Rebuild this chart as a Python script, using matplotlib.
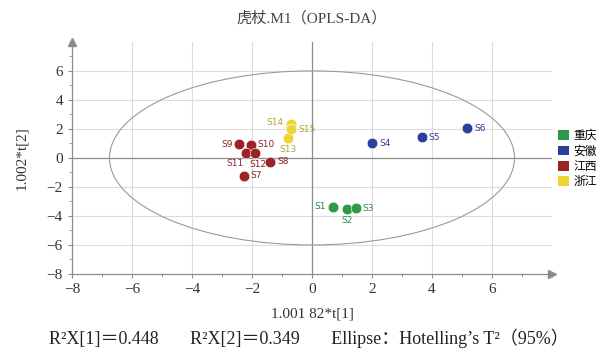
import matplotlib.pyplot as plt
from matplotlib.patches import Ellipse, Patch
from matplotlib.ticker import MultipleLocator

plt.rcParams["font.family"] = ["Liberation Serif", "Noto Sans CJK SC"]

groups = ["重庆", "安徽", "江西", "浙江"]
colors = ["#2e9a48", "#2c3f9c", "#9b2226", "#ecd535"]
text_colors = ["#2e8a48", "#2c3f9c", "#8b2226", "#b8a22a"]

samples = ["S1", "S2", "S3", "S4", "S5", "S6", "S7", "S8", "S9", "S10",
           "S11", "S12", "S13", "S14", "S15"]
t1 = [0.70, 1.18, 1.46, 2.01, 3.66, 5.18, -2.27, -1.40, -2.42, -2.04,
      -2.20, -1.91, -0.80, -0.71, -0.70]
t2 = [-3.38, -3.54, -3.47, 1.01, 1.43, 2.05, -1.24, -0.26, 0.94, 0.90,
      0.37, 0.32, 1.40, 2.34, 1.98]
group_of = [0, 0, 0, 1, 1, 1, 2, 2, 2, 2, 2, 2, 3, 3, 3]

ellipse_a = 6.75
ellipse_b = 6.0

# label offsets (points) and alignment
offsets = {
    "S1": (-5, 0, "right", "center"), "S2": (0, -5, "center", "top"),
    "S3": (5, 0, "left", "center"), "S4": (5, 0, "left", "center"),
    "S5": (5, 0, "left", "center"), "S6": (5, 0, "left", "center"),
    "S7": (5, 0, "left", "center"), "S8": (5, 0, "left", "center"),
    "S9": (-5, 0, "right", "center"), "S10": (5, 0, "left", "center"),
    "S11": (-2, -5, "right", "top"), "S12": (2, -5, "center", "top"),
    "S13": (0, -5, "center", "top"), "S14": (-5, 1, "right", "center"),
    "S15": (5, 0, "left", "center"),
}

fig = plt.figure(figsize=(6, 3.49), dpi=100)
ax = fig.add_axes([0.12, 0.215, 0.80, 0.665])
ax.set_xlim(-8, 8)
ax.set_ylim(-8, 8)

for v in [-6, -4, -2, 2, 4, 6]:
    ax.axvline(v, color="#dcdcdc", lw=0.8, zorder=0)
    ax.axhline(v, color="#dcdcdc", lw=0.8, zorder=0)
ax.axvline(0, color="#8c8c8c", lw=0.9, zorder=1)
ax.axhline(0, color="#8c8c8c", lw=0.9, zorder=1)

ax.add_patch(Ellipse((0, 0), 2 * ellipse_a, 2 * ellipse_b, fill=False,
                     edgecolor="#9a9a9a", lw=0.8, zorder=2))

for i, s in enumerate(samples):
    g = group_of[i]
    ax.scatter(t1[i], t2[i], s=58, color=colors[g], edgecolors="white",
               linewidths=0.4, zorder=4)
    dx, dy, ha, va = offsets[s]
    ax.annotate(s, (t1[i], t2[i]), xytext=(dx, dy), textcoords="offset points",
                ha=ha, va=va, fontsize=6.5, color=text_colors[g],
                family="DejaVu Sans", zorder=5)

for sp in ["top", "right"]:
    ax.spines[sp].set_visible(False)
for sp in ["left", "bottom"]:
    ax.spines[sp].set_color("#8c8c8c")
    ax.spines[sp].set_linewidth(0.9)
ax.plot(1, 0, ">", color="#8c8c8c", ms=6, transform=ax.transAxes, clip_on=False)
ax.plot(0, 1, "^", color="#8c8c8c", ms=6, transform=ax.transAxes, clip_on=False)

ax.xaxis.set_minor_locator(MultipleLocator(1))
ax.yaxis.set_minor_locator(MultipleLocator(1))
ax.set_xticks([-8, -6, -4, -2, 0, 2, 4, 6])
ax.set_yticks([-8, -6, -4, -2, 0, 2, 4, 6])
ax.tick_params(which="both", color="#8c8c8c", labelsize=11, labelcolor="#333333")
ax.tick_params(which="major", length=3)
ax.tick_params(which="minor", length=2)

ax.set_xlabel("1.001 82*t[1]", fontsize=11, color="#333333", labelpad=8)
ax.set_ylabel("1.002*t[2]", fontsize=11, color="#333333", labelpad=13)

fig.text(0.52, 0.947, "虎杖.M1（OPLS-DA）", ha="center", va="center",
         fontsize=11, color="#444444")
fig.text(0.515, 0.03,
         "R²X[1]＝0.448       R²X[2]＝0.349       Ellipse：Hotelling’s T²（95%）",
         ha="center", va="center", fontsize=13, color="#222222")

handles = [Patch(facecolor=c, edgecolor="none") for c in colors]
fig.legend(handles, groups, loc="center left", bbox_to_anchor=(0.93, 0.545),
           frameon=False, handlelength=0.9, handleheight=0.9,
           handletextpad=0.4, labelspacing=0.2, borderaxespad=0,
           borderpad=0, prop={"family": "Noto Sans CJK SC", "size": 8.5})

fig.savefig("out.png", dpi=100)
